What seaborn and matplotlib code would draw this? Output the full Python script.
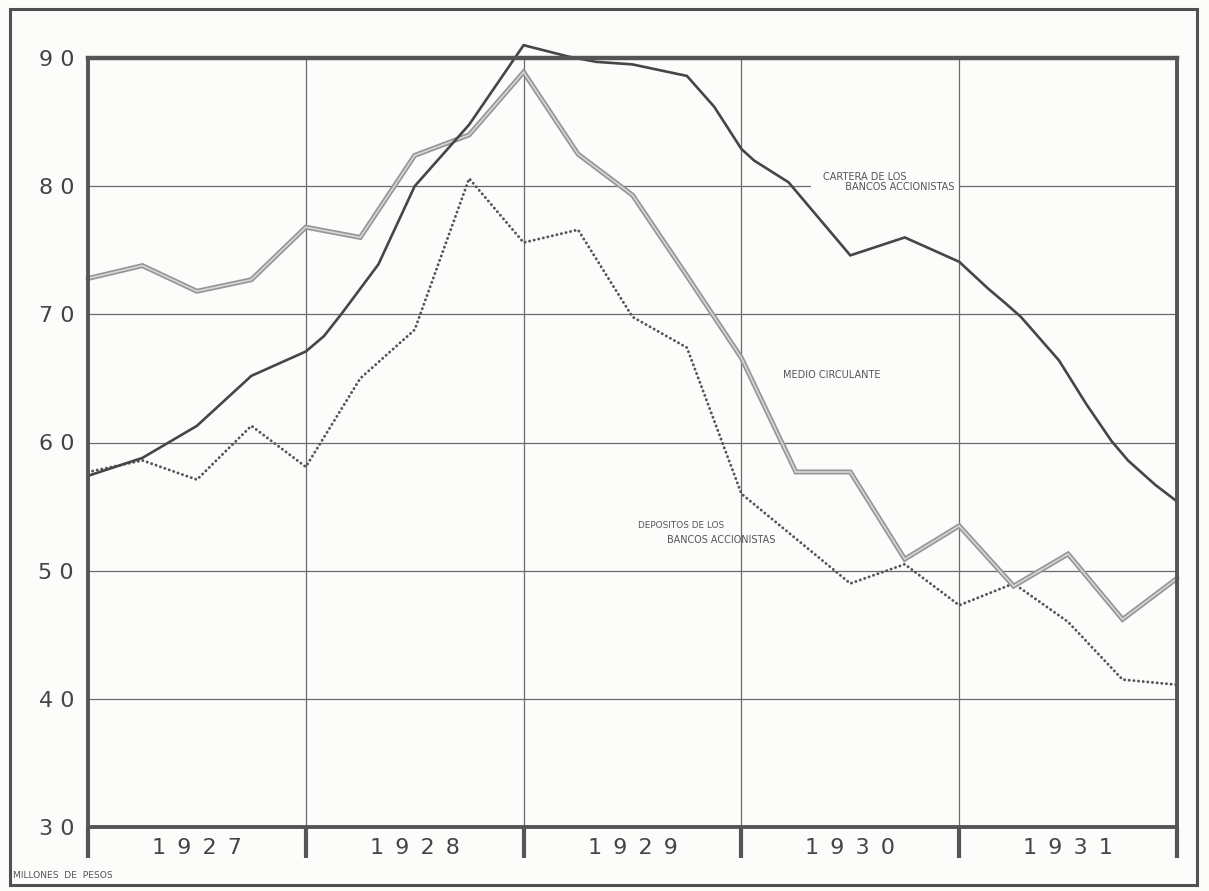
import matplotlib
matplotlib.use("Agg")
import matplotlib.pyplot as plt
import matplotlib.patches as mpatches
import seaborn as sns
import pandas as pd

# ---- data (months since Jan 1927) ----
cartera_months = [0, 3, 6, 9, 12, 13, 14, 16, 18, 21, 24, 26.5, 28, 30, 33, 34.5,
                  36, 36.7, 38.6, 42, 45, 48, 49.6, 50.6, 51.4, 53.5, 55, 56.4, 57.3, 58.8, 60]
cartera_values = [57.4, 58.8, 61.3, 65.2, 67.1, 68.3, 70.1, 73.9, 80.0, 84.8, 91.0, 90.1,
                  89.7, 89.5, 88.6, 86.2, 82.9, 82.0, 80.3, 74.6, 76.0, 74.1, 72.0, 70.8,
                  69.8, 66.4, 63.0, 60.1, 58.6, 56.7, 55.4]

medio_months = [0, 3, 6, 9, 12, 15, 18, 21, 24, 27, 30, 33, 36, 39, 42, 45, 48, 51, 54, 57, 60]
medio_values = [72.8, 73.8, 71.8, 72.7, 76.8, 76.0, 82.4, 84.0, 88.9, 82.5, 79.3, 73.0,
                66.6, 57.7, 57.7, 50.9, 53.5, 48.8, 51.3, 46.2, 49.4]

depositos_months = [0, 3, 6, 9, 12, 15, 18, 21, 24, 27, 30, 33, 35, 36, 39, 42, 45, 48,
                    51, 54, 57, 60]
depositos_values = [57.7, 58.6, 57.1, 61.3, 58.1, 65.0, 68.8, 80.6, 75.6, 76.6, 69.8, 67.4,
                    59.8, 56.0, 52.5, 49.0, 50.5, 47.3, 49.0, 46.0, 41.5, 41.1]

years = ["1927", "1928", "1929", "1930", "1931"]
y_ticks = [30, 40, 50, 60, 70, 80, 90]

sns.set_theme(style="white")
plt.rcParams["font.family"] = ["DejaVu Sans"]

BG = "#fcfcfa"
TXT = "#444444"

fig = plt.figure(figsize=(12.09, 8.91), dpi=100, facecolor=BG)
ax = fig.add_axes([88 / 1209, 1 - 827 / 891, (1177 - 88) / 1209, (827 - 58) / 891])
ax.set_facecolor(BG)

# outer frame
fig.patches.append(mpatches.Rectangle((10 / 1209, 1 - 885 / 891), (1197 - 10) / 1209,
                                      (885 - 9) / 891, transform=fig.transFigure,
                                      fill=False, edgecolor="#505050", lw=2.2))

df_d = pd.DataFrame({"m": depositos_months, "v": depositos_values})
df_m = pd.DataFrame({"m": medio_months, "v": medio_values})
df_c = pd.DataFrame({"m": cartera_months, "v": cartera_values})

sns.lineplot(data=df_d, x="m", y="v", ax=ax, color="#555555", lw=2.1,
             linestyle=(0, (0.05, 1.55)), dash_capstyle="round", sort=False)
sns.lineplot(data=df_m, x="m", y="v", ax=ax, color="#959595", lw=3.6, sort=False)
sns.lineplot(data=df_m, x="m", y="v", ax=ax, color="#d6d6d6", lw=1.2, sort=False)
sns.lineplot(data=df_c, x="m", y="v", ax=ax, color="#464646", lw=1.9, sort=False)
for ln in ax.lines:
    ln.set_clip_on(False)
    ln.set_solid_joinstyle("miter")

ax.set_xlim(0, 60)
ax.set_ylim(30, 90)

# grid
for yv in y_ticks[1:-1]:
    ax.axhline(yv, color="#6a6a6a", lw=0.9, zorder=0)
for xm in range(12, 60, 12):
    ax.axvline(xm, color="#6a6a6a", lw=0.9, zorder=1)

# spines
for s in ax.spines.values():
    s.set_color("#555555")
    s.set_linewidth(2.8)
ax.spines["top"].set_linewidth(3.2)

# y ticks
ax.set_yticks(y_ticks)
ax.set_yticklabels([" ".join(str(t)) for t in y_ticks], fontsize=16, color=TXT)
ax.tick_params(axis="y", length=0, pad=10)

# x ticks: year boundaries as long bars, year labels in middle
ax.set_xticks(range(0, 61, 12))
ax.set_xticklabels([])
ax.set_xticks([6 + 12 * i for i in range(len(years))], minor=True)
ax.set_xticklabels(["\u2002".join(y) for y in years], minor=True, fontsize=16, color=TXT)
ax.tick_params(axis="x", which="major", direction="out", length=22, width=3.0,
               color="#555555", bottom=True)
ax.tick_params(axis="x", which="minor", length=0, pad=8, bottom=True)
ax.set_xlabel("")
ax.set_ylabel("")

# annotations
lab = dict(fontsize=7, color="#555555", family="DejaVu Sans", va="center", ha="left")
ax.text(40.5, 80.75, "CARTERA DE LOS", **lab)
ax.text(40.0, 79.95, "          BANCOS ACCIONISTAS ", zorder=0.5,
        bbox=dict(boxstyle="square,pad=0.3", fc=BG, ec="none"), **lab)
ax.text(38.3, 65.3, "MEDIO CIRCULANTE", **lab)
ax.text(30.3, 53.5, "DEPOSITOS DE LOS", fontsize=6.4, color="#555555", va="center", ha="left")
ax.text(31.9, 52.4, "BANCOS ACCIONISTAS", fontsize=6.9, color="#555555", va="center", ha="left")

fig.text(13 / 1209, 1 - 876 / 891, "MILLONES  DE  PESOS", fontsize=6.6, color="#555555",
         va="center", ha="left")

fig.savefig("out.png", dpi=100, facecolor=BG)
